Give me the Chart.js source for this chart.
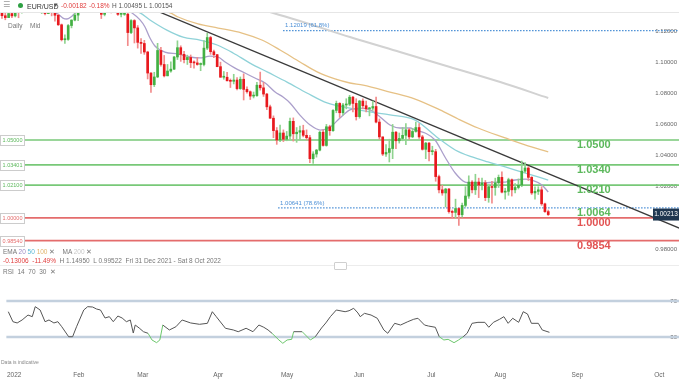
<!DOCTYPE html>
<html><head><meta charset="utf-8">
<script src="https://cdn.jsdelivr.net/npm/chart.js@4.4.1/dist/chart.umd.min.js"></script>
<style>
html,body{margin:0;padding:0;background:#fff;width:679px;height:380px;overflow:hidden;font-family:"Liberation Sans",Arial,sans-serif;}
#wrap{position:relative;width:679px;height:380px;}
canvas{position:absolute;left:0;}
.t{position:absolute;white-space:nowrap;font-size:6.5px;line-height:1;color:#666;}
</style></head><body>
<div id="wrap">
<canvas id="main" width="679" height="265" style="top:0;width:679px;height:265px"></canvas>
<canvas id="rsi" width="679" height="115" style="top:265px;width:679px;height:115px"></canvas>
<div style="position:absolute;left:0;top:12px;width:679px;height:1px;background:#e6e6e6"></div>
<div class="t" style="left:3px;top:1px;font-size:8px;color:#999;font-family:'DejaVu Sans'">☰</div>
<div style="position:absolute;left:18px;top:3px;width:5px;height:5px;border-radius:50%;background:#2ea043"></div>
<div class="t" style="left:27px;top:3px;font-size:7px;color:#333">EUR/USD</div>
<div class="t" style="left:54px;top:2px;font-size:7px;color:#555;font-family:'DejaVu Sans'">▾</div>
<div class="t" style="left:61px;top:3px;color:#e03b3b">-0.00182</div>
<div class="t" style="left:89px;top:3px;color:#e03b3b">-0.18%</div>
<div class="t" style="left:112px;top:3px;color:#555">H 1.00495 L 1.00154</div>
<div class="t" style="left:8px;top:23px;color:#777">Daily</div>
<div class="t" style="left:30px;top:23px;color:#777">Mid</div>
<div class="t" style="left:3px;top:249px;color:#777">EMA <span style="color:#9c8cc4">20</span> <span style="color:#5ab8d6">50</span> <span style="color:#e0b46a">100</span> ✕ &nbsp;&nbsp; MA <span style="color:#c8c8c8">200</span> ✕</div>
<div class="t" style="left:3px;top:258px;color:#777"><span style="color:#e03b3b">-0.13006 &nbsp;-11.49%</span> &nbsp;H 1.14950 &nbsp;L 0.99522 &nbsp;Fri 31 Dec 2021 - Sat 8 Oct 2022</div>
<div style="position:absolute;left:0;top:265px;width:679px;height:1px;background:#ececec"></div>
<div style="position:absolute;left:334px;top:262px;width:11px;height:6px;border:1px solid #cfcfcf;background:#fff;border-radius:1px"></div>
<div class="t" style="left:3px;top:269px;color:#777">RSI &nbsp;14 &nbsp;70 &nbsp;30 &nbsp;✕</div>
<div class="t" style="left:1px;top:360px;font-size:5px;color:#888">Data is indicative</div>
</div>
<script>
const open = [
1.1370,1.1298,1.1286,1.1312,1.1297,1.1360,1.1326,1.1367,1.1441,1.1455,
1.1413,1.1406,1.1325,1.1344,1.1312,1.1345,1.1326,1.1301,1.1240,1.1144,
1.1146,1.1235,1.1270,1.1302,1.1440,1.1453,1.1440,1.1417,1.1421,1.1426,
1.1350,1.1307,1.1357,1.1375,1.1360,1.1323,1.1307,1.1307,1.1308,1.1190,
1.1267,1.1220,1.1127,1.1120,1.1065,1.0930,1.0855,1.0905,1.1075,1.0985,
1.0912,1.0943,1.0955,1.1033,1.1093,1.1050,1.1016,1.1030,1.0997,1.0995,
1.0985,1.0985,1.1090,1.1158,1.1067,1.1048,1.0971,1.0903,1.0903,1.0880,
1.0877,1.0885,1.0830,1.0890,1.0825,1.0810,1.0782,1.0785,1.0852,1.0835,
1.0795,1.0713,1.0640,1.0560,1.0500,1.0545,1.0505,1.0525,1.0620,1.0540,
1.0550,1.0560,1.0530,1.0515,1.0380,1.0410,1.0435,1.0550,1.0465,1.0585,
1.0560,1.0690,1.0735,1.0675,1.0725,1.0730,1.0775,1.0735,1.0650,1.0750,
1.0720,1.0700,1.0705,1.0715,1.0615,1.0520,1.0410,1.0420,1.0445,1.0550,
1.0495,1.0510,1.0530,1.0565,1.0520,1.0555,1.0580,1.0520,1.0440,1.0480,
1.0425,1.0425,1.0265,1.0180,1.0160,1.0185,1.0040,1.0035,1.0060,1.0020,
1.0080,1.0140,1.0230,1.0180,1.0230,1.0210,1.0225,1.0130,1.0200,1.0195,
1.0225,1.0260,1.0165,1.0170,1.0245,1.0180,1.0195,1.0210,1.0300,1.0320,
1.0260,1.0160,1.0170,1.0180,1.0090,1.0040];
const high = [
1.1376,1.1323,1.1346,1.1330,1.1364,1.1363,1.1375,1.1449,1.1482,1.1483,
1.1430,1.1411,1.1370,1.1369,1.1363,1.1348,1.1331,1.1308,1.1245,1.1175,
1.1242,1.1272,1.1320,1.1449,1.1483,1.1474,1.1450,1.1449,1.1495,1.1438,
1.1369,1.1368,1.1395,1.1390,1.1373,1.1395,1.1361,1.1344,1.1322,1.1273,
1.1273,1.1235,1.1152,1.1140,1.1070,1.0933,1.0935,1.1121,1.1095,1.1043,
1.0985,1.1002,1.1037,1.1137,1.1105,1.1070,1.1045,1.1046,1.1008,1.1030,
1.0995,1.1138,1.1185,1.1166,1.1077,1.1050,1.1000,1.0940,1.0935,1.0892,
1.0922,1.0901,1.0905,1.0925,1.0842,1.0815,1.0808,1.0870,1.0936,1.0870,
1.0800,1.0725,1.0655,1.0580,1.0595,1.0565,1.0555,1.0640,1.0642,1.0580,
1.0590,1.0595,1.0565,1.0530,1.0425,1.0440,1.0555,1.0565,1.0600,1.0595,
1.0695,1.0750,1.0740,1.0735,1.0765,1.0787,1.0780,1.0765,1.0755,1.0765,
1.0750,1.0710,1.0750,1.0775,1.0635,1.0520,1.0470,1.0505,1.0600,1.0555,
1.0545,1.0580,1.0605,1.0575,1.0575,1.0615,1.0605,1.0530,1.0485,1.0485,
1.0460,1.0440,1.0275,1.0210,1.0190,1.0190,1.0050,1.0120,1.0065,1.0095,
1.0200,1.0270,1.0240,1.0280,1.0255,1.0255,1.0240,1.0210,1.0235,1.0255,
1.0275,1.0295,1.0190,1.0255,1.0250,1.0220,1.0250,1.0365,1.0355,1.0330,
1.0265,1.0200,1.0200,1.0200,1.0095,1.0050];
const low = [
1.1281,1.1272,1.1286,1.1285,1.1290,1.1285,1.1314,1.1355,1.1433,1.1400,
1.1395,1.1321,1.1312,1.1304,1.1311,1.1297,1.1263,1.1235,1.1136,1.1121,
1.1140,1.1220,1.1265,1.1267,1.1395,1.1405,1.1392,1.1405,1.1374,1.1340,
1.1280,1.1297,1.1355,1.1316,1.1320,1.1300,1.1290,1.1300,1.1106,1.1183,
1.1123,1.1090,1.1056,1.1050,1.0892,1.0806,1.0843,1.0900,1.0974,1.0905,
1.0912,1.0935,1.0952,1.1017,1.1005,1.0995,1.0985,1.0965,1.0962,1.0980,
1.0945,1.0975,1.1080,1.1050,1.1028,1.0970,1.0903,1.0890,1.0880,1.0837,
1.0860,1.0822,1.0825,1.0757,1.0800,1.0760,1.0770,1.0780,1.0820,1.0780,
1.0695,1.0638,1.0515,1.0472,1.0490,1.0490,1.0495,1.0505,1.0493,1.0485,
1.0500,1.0520,1.0500,1.0354,1.0350,1.0390,1.0430,1.0460,1.0460,1.0530,
1.0555,1.0675,1.0645,1.0660,1.0700,1.0720,1.0680,1.0628,1.0640,1.0700,
1.0680,1.0655,1.0690,1.0610,1.0505,1.0400,1.0395,1.0359,1.0380,1.0445,
1.0480,1.0495,1.0470,1.0505,1.0515,1.0550,1.0510,1.0435,1.0380,1.0365,
1.0405,1.0235,1.0160,1.0145,1.0070,1.0030,0.9998,0.9998,0.9952,1.0005,
1.0070,1.0125,1.0160,1.0150,1.0130,1.0180,1.0110,1.0100,1.0095,1.0145,
1.0195,1.0160,1.0120,1.0145,1.0140,1.0160,1.0185,1.0200,1.0290,1.0240,
1.0150,1.0120,1.0150,1.0080,1.0035,1.0015];
const close = [
1.1298,1.1286,1.1312,1.1297,1.1360,1.1326,1.1367,1.1441,1.1455,1.1413,
1.1406,1.1325,1.1344,1.1312,1.1345,1.1326,1.1301,1.1240,1.1144,1.1146,
1.1235,1.1270,1.1302,1.1440,1.1453,1.1440,1.1417,1.1421,1.1426,1.1350,
1.1307,1.1357,1.1375,1.1360,1.1323,1.1307,1.1307,1.1308,1.1190,1.1267,
1.1220,1.1127,1.1120,1.1065,1.0930,1.0855,1.0905,1.1075,1.0985,1.0912,
1.0943,1.0955,1.1033,1.1093,1.1050,1.1016,1.1030,1.0997,1.0995,1.0985,
1.0985,1.1090,1.1158,1.1067,1.1048,1.0971,1.0903,1.0903,1.0880,1.0877,
1.0885,1.0830,1.0890,1.0825,1.0810,1.0782,1.0785,1.0852,1.0835,1.0795,
1.0713,1.0640,1.0560,1.0500,1.0545,1.0505,1.0525,1.0620,1.0540,1.0550,
1.0560,1.0530,1.0515,1.0380,1.0410,1.0435,1.0550,1.0465,1.0585,1.0560,
1.0690,1.0735,1.0675,1.0725,1.0730,1.0775,1.0735,1.0650,1.0750,1.0720,
1.0700,1.0705,1.0715,1.0615,1.0520,1.0410,1.0420,1.0445,1.0550,1.0495,
1.0510,1.0530,1.0565,1.0520,1.0555,1.0580,1.0520,1.0440,1.0480,1.0425,
1.0425,1.0265,1.0180,1.0160,1.0185,1.0040,1.0035,1.0060,1.0020,1.0080,
1.0140,1.0230,1.0180,1.0230,1.0210,1.0225,1.0130,1.0200,1.0195,1.0225,
1.0260,1.0165,1.0170,1.0245,1.0180,1.0195,1.0210,1.0300,1.0320,1.0260,
1.0160,1.0170,1.0180,1.0090,1.0040,1.0021];

const ema20Idx = [0,10,16.9,18.4,19.6,20.8,22.1,23.6,28,35,39.3,41.7,43.2,44.7,46.2,49.2,53.2,56.8,59.8,62.8,65.3,67.4,70.4,73.4,76.4,79.5,82.5,84.9,87,90,93.1,96.1,99.1,102.1,105.1,108.2,111.2,114.2,117.2,120.2,123.3,124.8,127.8,130.8,133.8,136.9,139.9,142.9,145.9,148.9,152,155,158,160.1,163.1,165];
const ema20Val = [1.1335,1.1345,1.1309,1.1283,1.1277,1.1290,1.1316,1.1341,1.1370,1.1360,1.1316,1.1271,1.1226,1.1155,1.1104,1.1065,1.1052,1.1033,1.1027,1.1039,1.1033,1.1001,1.0962,1.0930,1.0898,1.0866,1.0808,1.0776,1.0738,1.0660,1.0596,1.0564,1.0583,1.0641,1.0693,1.0705,1.0693,1.0648,1.0596,1.0577,1.0577,1.0564,1.0545,1.0500,1.0391,1.0288,1.0230,1.0224,1.0224,1.0230,1.0230,1.0243,1.0249,1.0243,1.0211,1.0166];
const ema50Idx = [20,35.6,41.7,44.7,49.8,54.7,59.8,65,69.8,74.9,80.1,86.1,92.1,98.2,105.1,111.2,117.2,124.8,131.7,136.9,142,146.8,152,157.1,165];
const ema50Val = [1.1370,1.1348,1.1316,1.1271,1.1206,1.1161,1.1142,1.1110,1.1059,1.0994,1.0937,1.0872,1.0802,1.0738,1.0705,1.0680,1.0661,1.0628,1.0513,1.0436,1.0391,1.0359,1.0327,1.0294,1.0243];
const ema100Idx = [40,46,50.8,53.2,59.2,65.3,72.5,78.5,84,90,95.2,100.6,105.1,109.1,117.2,124.8,132.3,137.8,143.8,152,158,165];
const ema100Val = [1.1365,1.1340,1.1316,1.1290,1.1245,1.1219,1.1187,1.1142,1.1078,1.1001,1.0937,1.0892,1.0866,1.0853,1.0808,1.0763,1.0693,1.0635,1.0577,1.0513,1.0468,1.0423];
const ma200Idx = [70,81.9,90,105.1,120.2,135.3,150.5,165];
const ma200Val = [1.1385,1.1316,1.1264,1.1161,1.1065,1.0969,1.0872,1.0770];

const trendIdx = [40,206];
const trendVal = [1.1389,0.9922];

const levelValues = [1.05,1.03401,1.021,1.0,0.9854];
const levelBoxLabels = ["1.05000","1.03401","1.02100","1.00000","0.98540"];
const bigValues = [1.05,1.034,1.021,1.0064,1.0,0.9854];
const bigLabels = ["1.0500","1.0340","1.0210","1.0064","1.0000","0.9854"];
const fibValues = [1.12019,1.00641];
const fibLabels = ["1.12019 (61.8%)","1.00641 (78.6%)"];
const fibStartIdx = [84.9,83.4];
const lastPrice = 1.00213;
const lastPriceLabel = "1.00213";
const yTicks = [0.98,1.00,1.02,1.04,1.06,1.08,1.10,1.12];

const rsiIdx = [0,1.4,2.7,4.2,6.0,7.3,8.2,9.7,11.2,12.4,13.9,15.1,16.3,18.4,19.6,20.8,23,24.2,25.7,26.9,28.1,29.5,30.8,32,33.4,34.7,36,37.2,38.1,38.7,39.9,41.2,42.6,43.8,45.2,46.2,47.1,49.1,51.1,53,55.6,58.3,60.7,62.2,63.4,66.2,68.6,70.1,72.5,74.6,76.4,77.9,79.2,80.4,82.5,83.7,85,86.4,87,89.6,92.1,93.6,95.5,96.8,98.2,100,102.7,103.9,105.3,106.6,107.3,108.6,110.6,112.5,114.5,115.7,117.8,119.6,121.8,123.6,124.9,126.9,128.1,130.2,131.4,132.8,134.1,135.9,137.3,138.7,139.9,141.4,143.2,145.3,146.5,147.9,149.8,151.1,152.4,153.8,155.6,157,158.3,159.5,161.6,162.8,165];
const rsiVal = [58.1,47,45.6,48.9,54.4,52.6,63.7,60,47,48.9,45.6,47,41.4,30.3,30.3,41.4,60,63.7,63.3,61.1,60,51.1,52.6,47,53.3,51.1,47,48.9,34.4,43.3,40,35.9,34.1,26.7,23.7,26.7,43.3,37.8,41.4,48.9,45.6,44.1,45.2,58.1,52.6,39.7,37.8,35.9,39.7,35.9,43.3,40.8,37.8,34.1,26.7,23,26.7,27.4,35.9,35.9,26.7,30.3,40,45.6,52.6,60,58.1,59.2,61.9,56.7,52.6,56.3,54.4,50.8,37.8,34.1,45.2,43.3,47,49.7,50.8,43.3,42.2,40.8,30.3,26.7,27.4,23.7,26.7,30.3,34.1,45.2,46.3,46.3,40.8,46.3,49.7,52.6,45.2,50.8,46.3,58.1,55.6,45.2,45.2,37.8,35.2];
const rsiLevels = [70,30];
const monthTickIdx = [1.8,21.5,41,64,85,107,129,150,173.5,198.5];
const monthLabels = ["2022","Feb","Mar","Apr","May","Jun","Jul","Aug","Sep","Oct"];

// ---------- styles ----------
const FONT = '"Liberation Sans", Arial, sans-serif';
const GREEN = '#43b043', RED = '#e8191e';
const WICK_G = '#8fd38f', WICK_R = '#f28b8b';
const LVL_G = '#78c878', LVL_R = '#e46c6c';
const BIG_G = '#5cb85c', BIG_R = '#e25353';
const FIB = '#4b8fd6';
const X_MIN = -0.6, X_MAX = 204.5;

const pts = (xs, ys) => xs.map((x, i) => ({x, y: ys[i]}));
const up = i => close[i] >= open[i];

const lineDs = (data, color, width, order, extra) => Object.assign({
  type: 'line', data, borderColor: color, borderWidth: width, pointRadius: 0,
  fill: false, order, cubicInterpolationMode: 'monotone'
}, extra || {});

const datasets = [
  {type:'bar', data: open.map((o,i)=>({x:i, y:[low[i], high[i]]})),
   backgroundColor: c => up(c.dataIndex) ? WICK_G : WICK_R,
   barThickness: 1, grouped: false, order: 1},
  {type:'bar', data: open.map((o,i)=>({x:i, y:[open[i], close[i]]})),
   backgroundColor: c => up(c.dataIndex) ? GREEN : RED,
   barThickness: 2, minBarLength: 1, grouped: false, order: 0},
  lineDs(pts(ma200Idx, ma200Val), '#d2d2d2', 2, 4),
  lineDs(pts(ema100Idx, ema100Val), '#e6c185', 1.3, 3),
  lineDs(pts(ema50Idx, ema50Val), '#8fd2d8', 1.3, 3),
  lineDs(pts(ema20Idx, ema20Val), '#ab9fcb', 1.3, 3),
  lineDs(pts(trendIdx, trendVal), '#3a3a3a', 1.3, 2, {cubicInterpolationMode:'default', tension:0}),
];
levelValues.forEach(v => datasets.push(lineDs([{x:6.6,y:v},{x:206,y:v}], v <= 1.0 ? LVL_R : LVL_G, 1.6, 5, {tension:0})));
fibValues.forEach((v,i) => datasets.push(lineDs([{x:fibStartIdx[i],y:v},{x:206,y:v}], FIB, 1.3, 5, {tension:0, borderDash:[1.5,1.5]})));

const overlay = {
  id: 'overlay',
  afterDatasetsDraw(chart) {
    const {ctx, scales: {x, y}} = chart;
    ctx.save();
    ctx.textBaseline = 'middle';
    levelValues.forEach((v, i) => {
      const py = Math.round(y.getPixelForValue(v)) + 0.5;
      ctx.fillStyle = '#fff'; ctx.strokeStyle = '#cccccc'; ctx.lineWidth = 1;
      ctx.fillRect(0.5, py - 5, 24, 10); ctx.strokeRect(0.5, py - 5, 24, 10);
      ctx.font = '5.5px ' + FONT; ctx.textAlign = 'center';
      ctx.fillStyle = v <= 1.0 ? LVL_R : '#5cb85c';
      ctx.fillText(levelBoxLabels[i], 12.5, py);
    });
    ctx.font = '600 11px ' + FONT; ctx.textAlign = 'left';
    bigValues.forEach((v, i) => {
      const py = y.getPixelForValue(v);
      ctx.fillStyle = v <= 1.0 ? BIG_R : BIG_G;
      ctx.fillText(bigLabels[i], 577, py + 5);
    });
    ctx.font = '6px ' + FONT; ctx.fillStyle = FIB;
    fibValues.forEach((v, i) => {
      ctx.fillText(fibLabels[i], x.getPixelForValue(fibStartIdx[i]) + 2, y.getPixelForValue(v) - 5);
    });
    const lp = y.getPixelForValue(lastPrice);
    ctx.fillStyle = '#1f3650';
    ctx.fillRect(653, lp - 6, 26, 12);
    ctx.fillStyle = '#fff'; ctx.font = '6.5px ' + FONT; ctx.textAlign = 'center';
    ctx.fillText(lastPriceLabel, 666, lp);
    ctx.restore();
  }
};

new Chart(document.getElementById('main'), {
  type: 'bar',
  data: {datasets},
  options: {
    responsive: false, animation: false, devicePixelRatio: 1, events: [],
    layout: {padding: {top: 12, bottom: 3, left: 0, right: 0}},
    plugins: {legend: {display: false}, tooltip: {enabled: false}},
    scales: {
      x: {type: 'linear', min: X_MIN, max: X_MAX, offset: false, display: false},
      y: {type: 'linear', position: 'right', min: 0.97165, max: 1.13220,
          grid: {display: false, drawTicks: false}, border: {display: false},
          afterFit: s => { s.width = 0; },
          afterBuildTicks: s => { s.ticks = yTicks.map(v => ({value: v})); },
          ticks: {mirror: true, padding: -2, color: '#666', font: {size: 6, family: FONT},
                  callback: v => Number(v).toFixed(5)}}
    }
  },
  plugins: [overlay]
});

const rsiDatasets = [
  {type:'line', data: pts(rsiIdx, rsiVal), borderColor: '#555', borderWidth: 1, pointRadius: 0, tension: 0, order: 0,
   segment: {borderColor: c => (c.p0.parsed.y < 29.5 || c.p1.parsed.y < 29.5) ? '#6cc66c' : '#555'}},
];
rsiLevels.forEach(v => rsiDatasets.push({type:'line', data:[{x:-1,y:v},{x:206,y:v}], borderColor:'#c3d0de', borderWidth:2.5, pointRadius:0, order: 1}));

new Chart(document.getElementById('rsi'), {
  type: 'line',
  data: {datasets: rsiDatasets},
  options: {
    responsive: false, animation: false, devicePixelRatio: 1, events: [],
    layout: {padding: {top: 9, bottom: 0, left: 0, right: 0}},
    plugins: {legend: {display: false}, tooltip: {enabled: false}},
    scales: {
      x: {type: 'linear', min: X_MIN, max: X_MAX, offset: false,
          grid: {display: false, drawTicks: false}, border: {display: false},
          afterFit: s => { s.height = 16; },
          afterBuildTicks: s => { s.ticks = monthTickIdx.map(v => ({value: v})); },
          ticks: {autoSkip: false, maxRotation: 0, padding: 7, color: '#666', font: {size: 6.5, family: FONT},
                  callback: (v, i) => monthLabels[i]}},
      y: {type: 'linear', position: 'right', min: 0, max: 100,
          grid: {display: false, drawTicks: false}, border: {display: false},
          afterFit: s => { s.width = 0; },
          afterBuildTicks: s => { s.ticks = rsiLevels.map(v => ({value: v})); },
          ticks: {mirror: true, padding: -2, color: '#555', font: {size: 6, family: FONT}}}
    }
  }
});
</script>
</body></html>
